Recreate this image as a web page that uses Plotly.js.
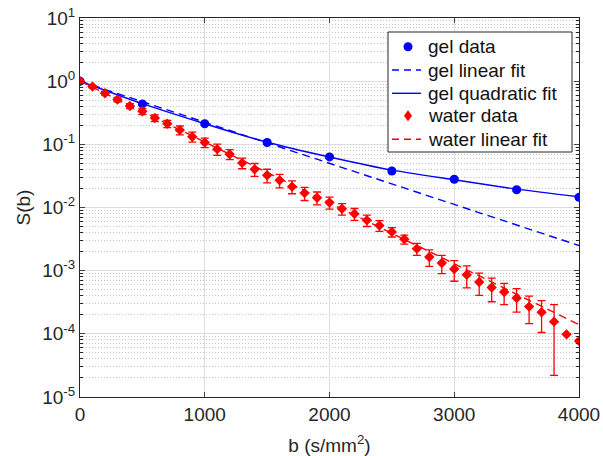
<!DOCTYPE html>
<html>
<head>
<meta charset="utf-8">
<script src="https://cdn.plot.ly/plotly-3.0.1.min.js"></script>
<style>html,body{margin:0;padding:0;background:#fff;}#chart{width:603px;height:456px;}</style>
</head>
<body>
<div id="chart"></div>
<script>
// ---- data ----
const gelB = [0, 500, 1000, 1500, 2000, 2500, 3000, 3500, 4000];
const gelS = [1.0, 0.436, 0.212, 0.107, 0.0633, 0.0379, 0.028, 0.0191, 0.0145];
const gelErr = [0.02, 0.02, 0.01, 0.006, 0.0035, 0.0022, 0.0016, 0.0011, 0.0008];

const gelLinB = [0, 4000];
const gelLinS = [1.0, 0.0025];

const gelQuadB = [0, 500, 1000, 1500, 2000, 2500, 3000, 3500, 4000];
const gelQuadS = [1.0, 0.44, 0.212, 0.108, 0.063, 0.039, 0.0275, 0.0195, 0.0148];

const waterB = [0,100,200,300,400,500,600,700,800,900,1000,1100,1200,1300,1400,1500,1600,1700,1800,1900,2000,
                2100,2200,2300,2400,2500,2600,2700,2800,2900,3000,3100,3200,3300,3400,3500,3600,3700,3800,3900,4000];
const waterS = [1.0,0.82,0.644,0.511,0.405,0.333,0.261,0.212,0.168,0.132,0.107,0.0839,0.0698,0.0508,0.0404,0.0324,0.027,0.0214,0.0169,0.0143,0.012,
                0.00955,0.00795,0.0063,0.00519,0.00411,0.00314,0.00223,0.00165,0.00132,0.00106,0.000863,0.00066,0.000542,0.00046,0.00037,0.00027,0.00022,0.000156,0.0000982,0.0000768];
const waterErr = [0.02,0.033,0.039,0.041,0.036,0.037,0.031,0.028,0.027,0.024,0.018,0.0168,0.0126,0.0097,0.0093,0.0079,0.0065,0.0049,0.004,0.0033,0.0026,
                  0.002,0.0017,0.0013,0.001,0.0007,0.0005,0.00048,0.00048,0.00042,0.00038,0.00033,0.000255,0.00022,0.00017,0.00015,0.000125,0.000115,0.000134,0,0];

const waterLinB = [0, 4000];
const waterLinS = [1.0, 0.00014];

const yTickVals = [1e-5, 1e-4, 1e-3, 1e-2, 1e-1, 1, 10];
const yTickText = ['10<sup>-5</sup>','10<sup>-4</sup>','10<sup>-3</sup>','10<sup>-2</sup>','10<sup>-1</sup>','10<sup>0</sup>','10<sup>1</sup>'];
const xTickVals = [0, 1000, 2000, 3000, 4000];

const legendNames = ['gel data', 'gel linear fit', 'gel quadratic fit', 'water data', 'water linear fit'];

const BLUE = '#0000ff', RED = '#ff0000';
const FONT = 'Liberation Sans, Arial, sans-serif';
const DASH = '8px,5px';

const traces = [
  {x: gelB, y: gelS, name: legendNames[0], type: 'scatter', mode: 'markers',
   marker: {symbol: 'circle', size: 9, color: BLUE},
   error_y: {type: 'data', array: gelErr, visible: true, color: BLUE, thickness: 1.2, width: 4}},
  {x: gelLinB, y: gelLinS, name: legendNames[1], type: 'scatter', mode: 'lines',
   line: {color: BLUE, width: 1.4, dash: DASH}},
  {x: gelQuadB, y: gelQuadS, name: legendNames[2], type: 'scatter', mode: 'lines',
   line: {color: BLUE, width: 1.4, shape: 'spline', smoothing: 0.6}},
  {x: waterB, y: waterS, name: legendNames[3], type: 'scatter', mode: 'markers',
   marker: {symbol: 'diamond', size: 8, color: RED},
   error_y: {type: 'data', array: waterErr, visible: true, color: RED, thickness: 1.3, width: 4}},
  {x: waterLinB, y: waterLinS, name: legendNames[4], type: 'scatter', mode: 'lines',
   line: {color: RED, width: 1.4, dash: DASH}}
];

// ---- hand-built legend (MATLAB-style compact rows) ----
const L = 80, W = 499, T = 18, H = 379;
const px = v => (v - L) / W;
const py = v => (T + H - v) / H;
const rowY = [46.7, 70, 93.3, 115.7, 139.3];
const shapes = [
  {type: 'rect', xref: 'paper', yref: 'paper', x0: px(388), x1: px(572), y0: py(32), y1: py(152),
   line: {color: '#262626', width: 1}, fillcolor: '#ffffff', layer: 'above'},
  {type: 'line', xref: 'paper', yref: 'paper', x0: px(392), x1: px(421), y0: py(rowY[1]), y1: py(rowY[1]),
   line: {color: BLUE, width: 1.4, dash: '7px,5px'}, layer: 'above'},
  {type: 'line', xref: 'paper', yref: 'paper', x0: px(392), x1: px(421), y0: py(rowY[2]), y1: py(rowY[2]),
   line: {color: BLUE, width: 1.4}, layer: 'above'},
  {type: 'line', xref: 'paper', yref: 'paper', x0: px(392), x1: px(421), y0: py(rowY[4]), y1: py(rowY[4]),
   line: {color: RED, width: 1.4, dash: '7px,5px'}, layer: 'above'},
  {type: 'circle', xref: 'paper', yref: 'paper', xsizemode: 'pixel', ysizemode: 'pixel',
   xanchor: px(408), yanchor: py(rowY[0]), x0: -4.5, x1: 4.5, y0: -4.5, y1: 4.5,
   line: {color: BLUE, width: 0}, fillcolor: BLUE, layer: 'above'},
  {type: 'path', xref: 'paper', yref: 'paper', xsizemode: 'pixel', ysizemode: 'pixel',
   xanchor: px(408), yanchor: py(rowY[3]), path: 'M 0 5.5 L 4 0 L 0 -5.5 L -4 0 Z',
   line: {color: RED, width: 0}, fillcolor: RED, layer: 'above'}
];
const annotations = legendNames.map((t, i) => ({
  text: t, xref: 'paper', yref: 'paper', x: px(426), y: py(rowY[i]),
  xanchor: 'left', yanchor: 'middle', showarrow: false,
  font: {family: FONT, size: 19, color: '#111111'}
}));

const layout = {
  width: 603, height: 456,
  margin: {l: 80, r: 24, t: 18, b: 59},
  paper_bgcolor: '#ffffff', plot_bgcolor: '#ffffff',
  font: {family: FONT, size: 18, color: '#262626'},
  showlegend: false,
  shapes: shapes,
  annotations: annotations,
  xaxis: {
    range: [0, 4000], tickvals: xTickVals, ticks: 'inside', ticklen: 5,
    showline: true, linecolor: '#262626', linewidth: 1, mirror: 'ticks',
    showgrid: true, gridcolor: '#dcdcdc', gridwidth: 1, zeroline: false,
    title: {text: 'b (s/mm<sup>2</sup>)', font: {size: 19}, standoff: 18},
    tickfont: {size: 19}
  },
  yaxis: {
    type: 'log', range: [-5, 1], tickvals: yTickVals, ticktext: yTickText,
    ticks: 'inside', ticklen: 5,
    showline: true, linecolor: '#262626', linewidth: 1, mirror: 'ticks',
    showgrid: true, gridcolor: '#dcdcdc', gridwidth: 1, zeroline: false,
    minor: {dtick: 'D1', showgrid: true, gridcolor: '#c4c4c4', griddash: '1px,2px', gridwidth: 1,
            ticks: 'inside', ticklen: 3, tickcolor: '#262626'},
    title: {text: 'S(b)', font: {size: 19}, standoff: 6},
    tickfont: {size: 19}
  }
};

Plotly.newPlot('chart', traces, layout, {displayModeBar: false, staticPlot: true});
</script>
</body>
</html>
